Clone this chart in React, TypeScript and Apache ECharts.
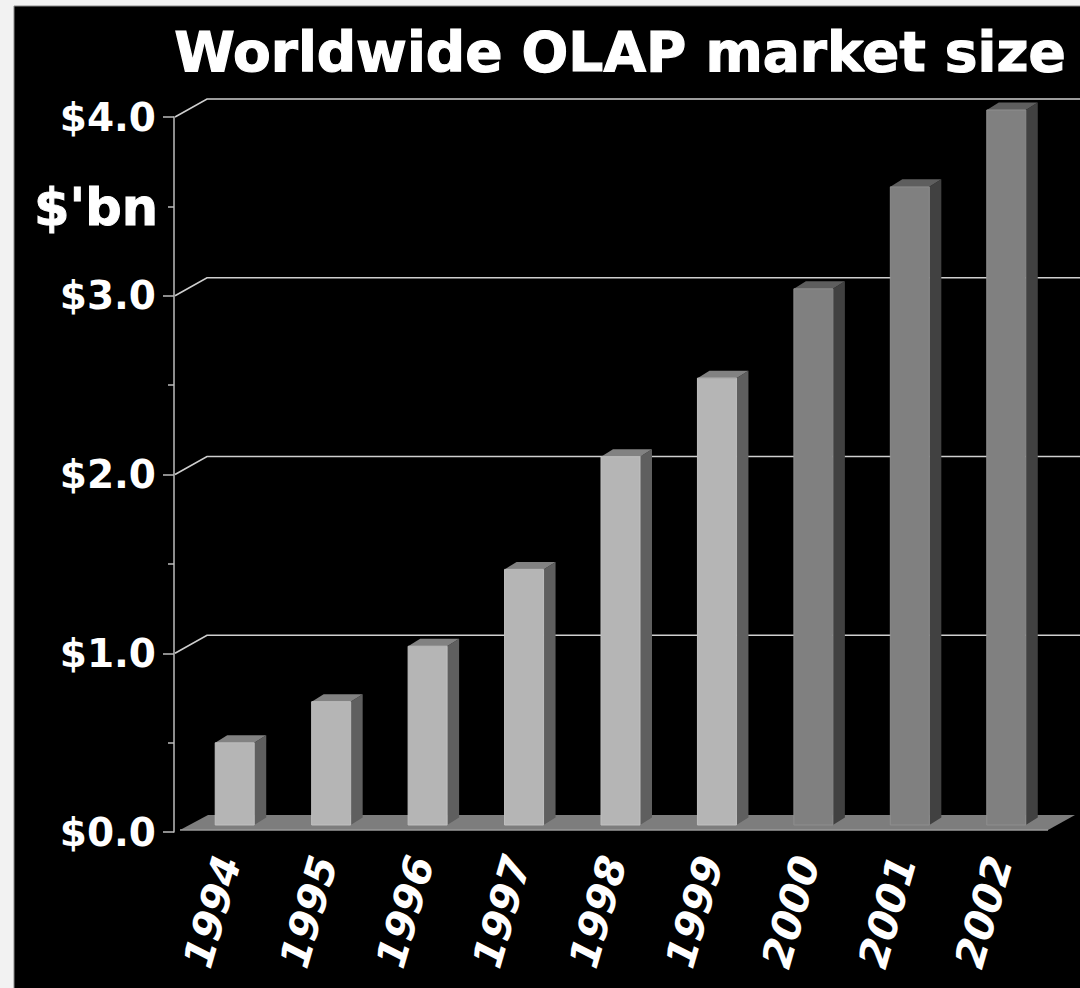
import React, { useEffect, useRef } from "react";
import * as echarts from "echarts";

const years = ["1994", "1995", "1996", "1997", "1998", "1999", "2000", "2001", "2002"];
const marketSize = [0.46, 0.69, 1.0, 1.43, 2.06, 2.5, 3.0, 3.57, 4.0];
const forecastFrom = "2000";
const yTicks = [1, 2, 3, 4];
const yMin = 0;
const yMax = 4;
const yInterval = 1;
const titleText = "Worldwide OLAP market size";
const unitText = "$'bn";

const FONT = "DejaVu Sans";

export default function App() {
  const ref = useRef<HTMLDivElement>(null);

  useEffect(() => {
    if (!ref.current) return;
    const chart = echarts.init(ref.current, undefined, { renderer: "svg" });
    const forecastIdx = years.indexOf(forecastFrom);

    const option: any = {
      animation: false,
      backgroundColor: "#f2f2f2",
      graphic: [
        {
          type: "rect",
          z: -10,
          shape: { x: 14, y: 6, width: 1070, height: 986 },
          style: { fill: "#000", stroke: "#8a8a8a", lineWidth: 1 },
          silent: true,
        },
        {
          type: "text",
          x: 620,
          y: 52,
          style: {
            text: titleText,
            fill: "#fff",
            stroke: "#fff",
            lineWidth: 1.2,
            font: `bold 55px "${FONT}"`,
            align: "center",
            verticalAlign: "middle",
          },
          silent: true,
        },
        {
          type: "text",
          x: 158,
          y: 207,
          style: {
            text: unitText,
            fill: "#fff",
            stroke: "#fff",
            lineWidth: 1,
            font: `bold 51px "${FONT}"`,
            align: "right",
            verticalAlign: "middle",
          },
          silent: true,
        },
      ],
      grid: { left: 180, right: 32, top: 117, bottom: 156, containLabel: false },
      xAxis: {
        type: "category",
        data: years,
        axisLine: { show: false },
        axisTick: { show: false },
        axisLabel: {
          rotate: 74,
          margin: 25,
          color: "#fff",
          fontFamily: FONT,
          fontWeight: "bold",
          fontStyle: "italic",
          fontSize: 41,
          interval: 0,
        },
      },
      yAxis: {
        type: "value",
        min: yMin,
        max: yMax,
        interval: yInterval,
        offset: 6,
        axisLine: { show: true, lineStyle: { color: "#bdbdbd", width: 1.5 } },
        axisTick: { show: true, length: 11, lineStyle: { color: "#bdbdbd", width: 1.5 } },
        minorTick: { show: true, splitNumber: 2, length: 6, lineStyle: { color: "#bdbdbd", width: 1.5 } },
        splitLine: { show: false },
        axisLabel: {
          margin: 18,
          color: "#fff",
          fontFamily: FONT,
          fontWeight: "bold",
          fontSize: 39,
          formatter: (v: number) => "$" + v.toFixed(1),
        },
      },
      series: [
        {
          type: "custom",
          name: "floor",
          z: 1,
          silent: true,
          clip: false,
          data: [[0, 0]],
          renderItem: (params: any, api: any) => {
            const cs = params.coordSys;
            const y0 = api.coord([0, 0])[1] - 2;
            const xl = cs.x;
            const xr = cs.x + cs.width;
            return {
              type: "group",
              children: [
                {
                  type: "polygon",
                  shape: {
                    points: [
                      [xl, y0],
                      [xr, y0],
                      [xr + 27, y0 - 15],
                      [xl + 28, y0 - 15],
                    ],
                  },
                  style: { fill: "#7d7d7d" },
                },
                {
                  type: "line",
                  shape: { x1: xl, y1: y0, x2: xr, y2: y0 },
                  style: { stroke: "#9a9a9a", lineWidth: 1.5 },
                },
              ],
            };
          },
        },
        {
          type: "custom",
          name: "wall",
          z: 1,
          silent: true,
          clip: false,
          data: yTicks.map((t) => [0, t]),
          renderItem: (params: any, api: any) => {
            const cs = params.coordSys;
            const y = api.coord([0, api.value(1)])[1];
            const ax = cs.x - 5;
            return {
              type: "polyline",
              shape: {
                points: [
                  [ax, y],
                  [ax + 32, y - 18],
                  [1080, y - 18],
                ],
              },
              style: { stroke: "#cfcfcf", lineWidth: 1.6, fill: null },
            };
          },
        },
        {
          type: "custom",
          name: "Market size",
          z: 3,
          clip: false,
          data: marketSize.map((v, i) => [i, v]),
          renderItem: (params: any, api: any) => {
            const i = api.value(0);
            const v = api.value(1);
            const base = api.coord([i, 0]);
            const top = api.coord([i, v]);
            const bw = 39;
            const dx = 12;
            const dy = -7.5;
            const cx = base[0] + 6.5;
            const y0 = base[1] - 7;
            const y1 = top[1] - 7;
            const xl = cx - bw / 2;
            const xr = cx + bw / 2;
            const fc = i >= forecastIdx;
            const front = fc ? "#808080" : "#b5b5b5";
            const side = fc ? "#414141" : "#5f5f5f";
            const topc = fc ? "#5e5e5e" : "#828282";
            return {
              type: "group",
              children: [
                {
                  type: "polygon",
                  shape: { points: [[xr, y1], [xr + dx, y1 + dy], [xr + dx, y0 + dy], [xr, y0]] },
                  style: { fill: side },
                },
                {
                  type: "polygon",
                  shape: { points: [[xl, y1], [xl + dx, y1 + dy], [xr + dx, y1 + dy], [xr, y1]] },
                  style: { fill: topc },
                },
                {
                  type: "rect",
                  shape: { x: xl, y: y1, width: bw, height: y0 - y1 },
                  style: { fill: front, stroke: fc ? "#8e8e8e" : "#c0c0c0", lineWidth: 1 },
                },
              ],
            };
          },
        },
      ],
    };

    chart.setOption(option);
    return () => chart.dispose();
  }, []);

  return (
    <div
      ref={ref}
      style={{ position: "fixed", left: 0, top: 0, width: 1080, height: 988 }}
    />
  );
}
